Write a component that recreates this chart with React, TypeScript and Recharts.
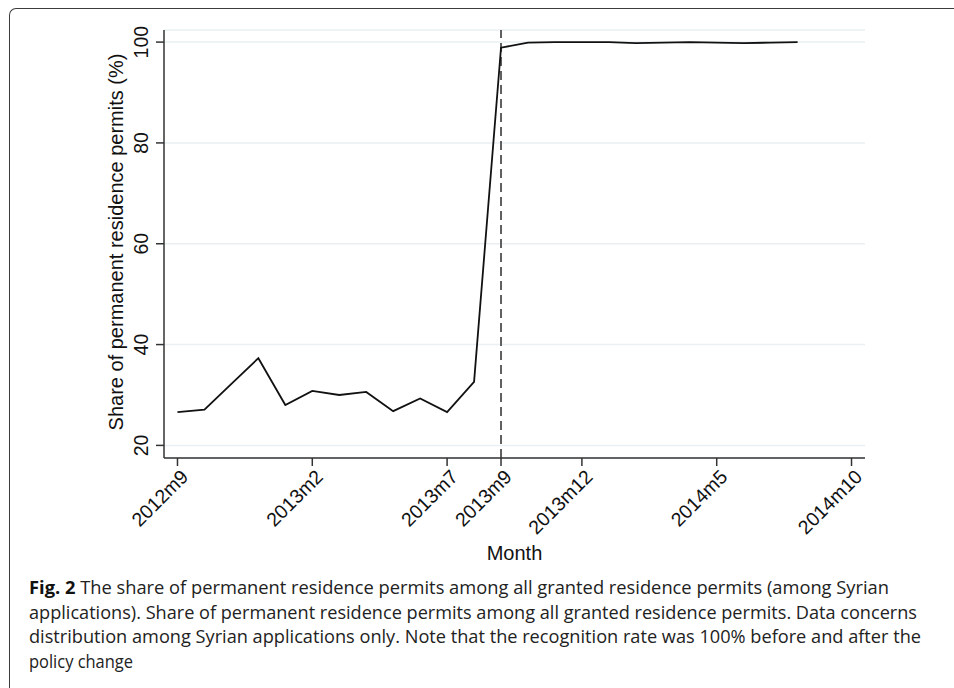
import React from "react";
import {
  LineChart,
  Line,
  XAxis,
  YAxis,
  CartesianGrid,
  ReferenceLine,
} from "recharts";

const months = [
  "2012m9", "2012m10", "2012m11", "2012m12",
  "2013m1", "2013m2", "2013m3", "2013m4", "2013m5", "2013m6", "2013m7", "2013m8",
  "2013m9", "2013m10", "2013m11", "2013m12",
  "2014m1", "2014m2", "2014m3", "2014m4", "2014m5", "2014m6", "2014m7", "2014m8",
];

const shares = [
  26.6, 27.1, 32.2, 37.3, 28.0, 30.8, 30.0, 30.6, 26.8, 29.3, 26.6, 32.6,
  98.9, 99.9, 100.0, 100.0, 100.0, 99.8, 99.9, 100.0, 99.9, 99.8, 99.9, 100.0,
];

const xTickLabels = ["2012m9", "2013m2", "2013m7", "2013m9", "2013m12", "2014m5", "2014m10"];
const yTicks = [20, 40, 60, 80, 100];
const policyMonth = "2013m9";

const captionLines = [
  "The share of permanent residence permits among all granted residence permits (among Syrian",
  "applications). Share of permanent residence permits among all granted residence permits. Data concerns",
  "distribution among Syrian applications only. Note that the recognition rate was 100% before and after the",
  "policy change",
];

// months since 2012m9
const monthIndex = (label: string) => {
  const [y, m] = label.split("m").map(Number);
  return (y - 2012) * 12 + (m - 9);
};

const data = months.map((label, i) => ({
  t: monthIndex(label),
  label,
  share: shares[i],
}));

const FONT = "'Liberation Sans', Arial, Helvetica, sans-serif";
const AXIS = "#333333";

const XTick = (props: any) => {
  const { x, y, payload } = props;
  const label = xTickLabels.find((l) => monthIndex(l) === payload.value) ?? "";
  const ax = x + 12;
  const ay = y + 10;
  return (
    <text
      x={ax}
      y={ay}
      transform={`rotate(-45, ${ax}, ${ay})`}
      textAnchor="end"
      fontSize={19.5}
      fontFamily={FONT}
      fill="#111"
    >
      {label}
    </text>
  );
};

const YTick = (props: any) => {
  const { x, y, payload } = props;
  const ax = x - 6;
  return (
    <text
      x={ax}
      y={y}
      transform={`rotate(-90, ${ax}, ${y})`}
      textAnchor="middle"
      fontSize={19.5}
      fontFamily={FONT}
      fill="#111"
    >
      {payload.value}
    </text>
  );
};

const YTitle = (props: any) => {
  const vb = props.viewBox || { x: 0, y: 30, width: 164, height: 428 };
  const cx = 123;
  const cy = vb.y + vb.height / 2 - 2;
  return (
    <text
      x={cx}
      y={cy}
      transform={`rotate(-90, ${cx}, ${cy})`}
      textAnchor="middle"
      fontSize={20}
      fontFamily={FONT}
      fill="#111"
    >
      Share of permanent residence permits (%)
    </text>
  );
};

const XTitle = (props: any) => {
  const vb = props.viewBox || { x: 164, y: 458, width: 701, height: 230 };
  return (
    <text
      x={vb.x + vb.width / 2}
      y={vb.y + 102}
      textAnchor="middle"
      fontSize={20}
      fontFamily={FONT}
      fill="#111"
    >
      Month
    </text>
  );
};

export default function App() {
  return (
    <div
      style={{
        position: "absolute",
        left: 0,
        top: 0,
        width: 954,
        height: 688,
        background: "#fff",
        overflow: "hidden",
      }}
    >
      <div
        style={{
          position: "absolute",
          left: 9,
          top: 8,
          width: 1000,
          height: 760,
          borderLeft: "1.5px solid #3c3c3c",
          borderTop: "1.5px solid #3c3c3c",
          borderTopLeftRadius: 7,
        }}
      />
      <div style={{ position: "absolute", left: 0, top: 0 }}>
        <LineChart
          width={954}
          height={688}
          data={data}
          margin={{ top: 30, right: 89, bottom: 0, left: 0 }}
        >
          <CartesianGrid
            vertical={false}
            stroke="#e9eff2"
            strokeWidth={1.5}
          />
          <XAxis
            dataKey="t"
            type="number"
            domain={[-0.5, 25.5]}
            ticks={xTickLabels.map(monthIndex)}
            interval={0}
            height={230}
            tick={<XTick />}
            tickSize={8}
            tickMargin={2}
            axisLine={{ stroke: AXIS, strokeWidth: 1.5 }}
            tickLine={{ stroke: AXIS, strokeWidth: 1.5 }}
            allowDataOverflow
            label={<XTitle />}
          />
          <YAxis
            type="number"
            domain={[17.5, 102.4]}
            ticks={yTicks}
            interval={0}
            width={164}
            tick={<YTick />}
            tickSize={8}
            tickMargin={2}
            axisLine={{ stroke: AXIS, strokeWidth: 1.5 }}
            tickLine={{ stroke: AXIS, strokeWidth: 1.5 }}
            allowDataOverflow
            label={<YTitle />}
          />
          <ReferenceLine
            x={monthIndex(policyMonth)}
            stroke="#606060"
            strokeWidth={2}
            strokeDasharray="9 5"
          />
          <Line
            dataKey="share"
            type="linear"
            stroke="#111"
            strokeWidth={1.8}
            dot={false}
            activeDot={false}
            isAnimationActive={false}
          />
        </LineChart>
      </div>
      <svg
        width={954}
        height={120}
        style={{ position: "absolute", left: 0, top: 568 }}
      >
        {captionLines.map((line, i) => (
          <text
            key={i}
            x={29}
            y={26 + i * 24.5}
            fontSize={18}
            fontFamily="'Open Sans', 'Noto Sans', sans-serif"
            fill="#222"
            textLength={[860, 888, 892, 104][i]}
            lengthAdjust="spacingAndGlyphs"
          >
            {i === 0 && (
              <tspan fontWeight="bold" fill="#111">
                {"Fig. 2  "}
              </tspan>
            )}
            {line}
          </text>
        ))}
      </svg>
    </div>
  );
}
